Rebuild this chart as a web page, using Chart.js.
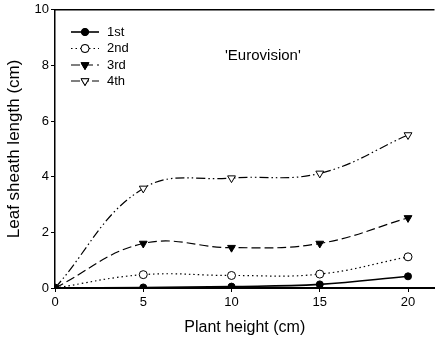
<!DOCTYPE html>
<html><head><meta charset="utf-8">
<script src="https://cdn.jsdelivr.net/npm/chart.js@4/dist/chart.umd.min.js"></script>
<style>html,body{margin:0;padding:0;background:#fff}#wrap{width:440px;height:341px}</style>
</head><body><div id="wrap"><canvas id="c" width="440" height="341"></canvas></div>
<script>
const plantHeight = [0, 5, 10, 15, 20];
const first  = [0, 0.02, 0.05, 0.13, 0.42];
const second = [0, 0.48, 0.45, 0.5, 1.12];
const third  = [0, 1.6, 1.45, 1.6, 2.52];
const fourth = [0, 3.58, 3.95, 4.12, 5.5];
const seriesNames = ['1st', '2nd', '3rd', '4th'];
const xTicks = [0, 5, 10, 15, 20];
const yTicks = [0, 2, 4, 6, 8, 10];
const cultivar = "'Eurovision'";

const FONT = 'Liberation Sans, Arial, sans-serif';
const pts = arr => plantHeight.map((x, i) => ({x, y: arr[i]}));
const styles = [
  {dash: [], ps: 'circle', fill: '#000', rot: 0, r: 3.5},
  {dash: [1.5, 3], ps: 'circle', fill: '#fff', rot: 0, r: 4},
  {dash: [9, 4], ps: 'triangle', fill: '#000', rot: 180, r: 4.5},
  {dash: [9, 3, 1.5, 3, 1.5, 3], ps: 'triangle', fill: '#fff', rot: 180, r: 4.5}
];
const allData = [first, second, third, fourth];
const datasets = allData.map((d, i) => ({
  label: seriesNames[i], data: pts(d),
  borderColor: '#000', borderWidth: i === 0 ? 1.6 : 1.2, borderDash: styles[i].dash,
  tension: 0.4, pointStyle: styles[i].ps, pointRotation: styles[i].rot,
  pointRadius: styles[i].r, pointBackgroundColor: styles[i].fill,
  pointBorderColor: '#000', pointBorderWidth: 1, fill: false
}));

const extras = {
  id: 'extras',
  afterDatasetsDraw(chart) {
    const ctx = chart.ctx, a = chart.chartArea;
    ctx.save();
    ctx.strokeStyle = '#000'; ctx.lineWidth = 1.5; ctx.setLineDash([]);
    ctx.beginPath(); ctx.moveTo(a.left, a.top); ctx.lineTo(a.right, a.top); ctx.stroke();
    ctx.lineWidth = 2;
    ctx.beginPath(); ctx.moveTo(a.left, a.bottom); ctx.lineTo(a.right, a.bottom); ctx.stroke();
    // legend
    const ly = [32, 48.5, 65, 81];
    ctx.font = '13px ' + FONT; ctx.fillStyle = '#000'; ctx.textBaseline = 'middle';
    seriesNames.forEach((n, i) => {
      const s = styles[i];
      ctx.setLineDash(s.dash); ctx.lineWidth = i === 0 ? 1.6 : 1.2;
      ctx.beginPath(); ctx.moveTo(71, ly[i]); ctx.lineTo(99, ly[i]); ctx.stroke();
      ctx.setLineDash([]); ctx.lineWidth = 1;
      ctx.fillStyle = s.fill;
      Chart.helpers.drawPoint(ctx, {pointStyle: s.ps, rotation: s.rot, radius: s.r, borderWidth: 1}, 85, ly[i]);
      ctx.fill(); ctx.stroke();
      ctx.fillStyle = '#000';
      ctx.fillText(n, 107, ly[i]);
    });
    ctx.font = '15px ' + FONT;
    ctx.fillText(cultivar, 225, 56);
    ctx.restore();
  }
};

new Chart(document.getElementById('c'), {
  type: 'line',
  data: {datasets},
  options: {
    responsive: false, animation: false, devicePixelRatio: 1,
    layout: {padding: {top: 9, right: 0, left: 0, bottom: 0}},
    plugins: {legend: {display: false}, tooltip: {enabled: false}},
    scales: {
      x: {
        type: 'linear', min: 0, max: 21.5,
        afterBuildTicks: ax => { ax.ticks = xTicks.map(v => ({value: v})); },
        afterFit: ax => { ax.height = 53; },
        grid: {display: true, drawOnChartArea: false, tickLength: 4, color: '#000'},
        border: {display: true, color: '#000', width: 2},
        ticks: {color: '#000', font: {size: 13, family: FONT}, padding: 3, maxRotation: 0},
        title: {display: true, text: 'Plant height (cm)', color: '#000', font: {size: 16, family: FONT}, padding: {top: 4}}
      },
      y: {
        min: 0, max: 10,
        afterBuildTicks: ax => { ax.ticks = yTicks.map(v => ({value: v})); },
        afterFit: ax => { ax.width = 55; },
        grid: {display: true, drawOnChartArea: false, tickLength: 4, color: '#000'},
        border: {display: true, color: '#000', width: 1.5},
        ticks: {color: '#000', font: {size: 13, family: FONT}, padding: 2},
        title: {display: true, text: 'Leaf sheath length (cm)', color: '#000', font: {size: 17, family: FONT}, padding: {bottom: 4}}
      }
    }
  },
  plugins: [extras]
});
</script></body></html>
